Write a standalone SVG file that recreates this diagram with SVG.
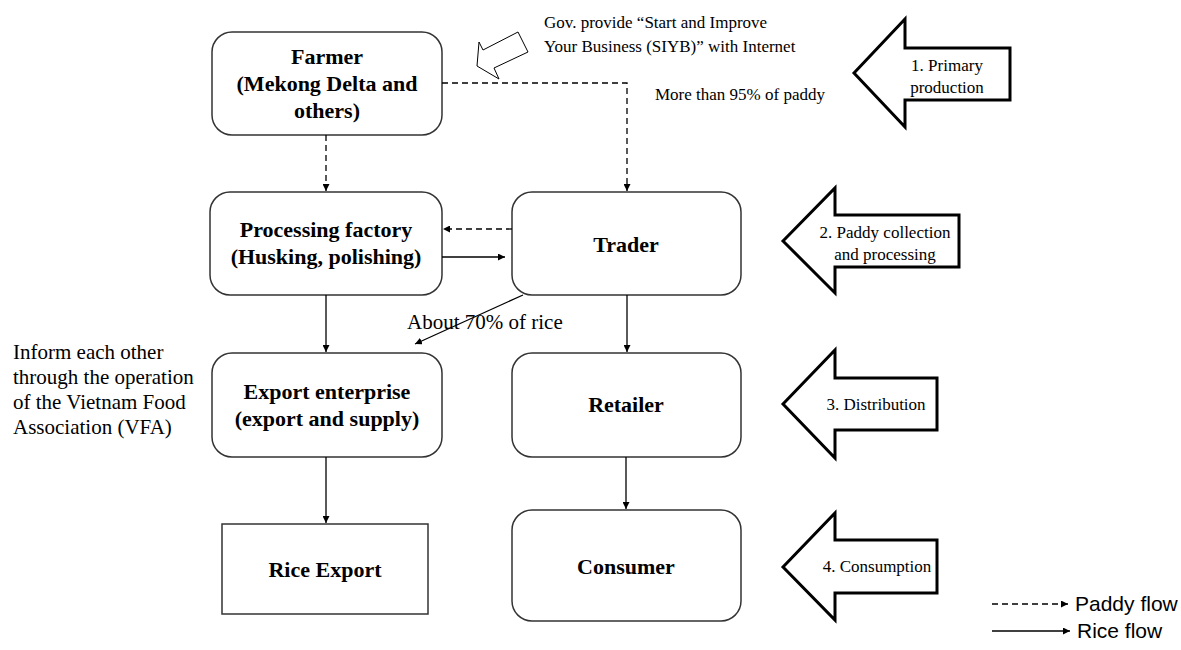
<svg xmlns="http://www.w3.org/2000/svg" width="1181" height="650" viewBox="0 0 1181 650">
  <style>
    .box { fill: #fff; stroke: #333; stroke-width: 1.5; }
    .node { font-family: "Liberation Serif", "Times New Roman", serif; font-weight: bold; font-size: 22px; fill: #000; text-anchor: middle; }
    .note { font-family: "Liberation Serif", "Times New Roman", serif; font-size: 17px; fill: #000; }
    .big { font-family: "Liberation Serif", "Times New Roman", serif; font-size: 21px; fill: #000; }
    .stage { font-family: "Liberation Serif", "Times New Roman", serif; font-size: 17px; fill: #000; text-anchor: middle; }
    .legend { font-family: "Liberation Sans", Arial, sans-serif; font-size: 21px; fill: #000; }
    .rice { fill: none; stroke: #000; stroke-width: 1.3; }
    .paddy { fill: none; stroke: #000; stroke-width: 1.3; stroke-dasharray: 6 4; }
    .block { fill: #fff; stroke: #000; stroke-width: 3; stroke-linejoin: miter; }
    .hollow { fill: #fff; stroke: #000; stroke-width: 1; }
  </style>
  <defs>
    <marker id="head" viewBox="0 0 10 10" refX="10" refY="5" markerWidth="7" markerHeight="7" markerUnits="userSpaceOnUse" orient="auto">
      <path d="M0,0 L10,5 L0,10 z" fill="#000"/>
    </marker>
  </defs>

  <!-- nodes -->
  <g id="farmer">
    <rect class="box" x="212" y="32" width="230" height="103" rx="20"/>
    <text class="node" x="327" y="64">Farmer</text>
    <text class="node" x="327" y="91">(Mekong Delta and</text>
    <text class="node" x="327" y="118">others)</text>
  </g>
  <g id="processing">
    <rect class="box" x="210" y="192" width="232" height="103" rx="20"/>
    <text class="node" x="326" y="237">Processing factory</text>
    <text class="node" x="326" y="264">(Husking, polishing)</text>
  </g>
  <g id="trader">
    <rect class="box" x="512" y="192" width="229" height="103" rx="20"/>
    <text class="node" x="626" y="252">Trader</text>
  </g>
  <g id="export">
    <rect class="box" x="212" y="353" width="230" height="104" rx="20"/>
    <text class="node" x="327" y="399">Export enterprise</text>
    <text class="node" x="327" y="426">(export and supply)</text>
  </g>
  <g id="retailer">
    <rect class="box" x="512" y="353" width="229" height="104" rx="20"/>
    <text class="node" x="626" y="412">Retailer</text>
  </g>
  <g id="rice-export">
    <rect class="box" x="222" y="524" width="206" height="90"/>
    <text class="node" x="325" y="577">Rice Export</text>
  </g>
  <g id="consumer">
    <rect class="box" x="512" y="510" width="229" height="111" rx="20"/>
    <text class="node" x="626" y="574">Consumer</text>
  </g>

  <!-- connectors -->
  <g id="connectors">
    <path class="paddy" d="M326,135 V191" marker-end="url(#head)"/>
    <path class="paddy" d="M442,83 H627 V191" marker-end="url(#head)"/>
    <path class="paddy" d="M512,229 H443" marker-end="url(#head)"/>
    <path class="rice" d="M442,257 H505" marker-end="url(#head)"/>
    <path class="rice" d="M326,295 V352" marker-end="url(#head)"/>
    <path class="rice" d="M627,295 V352" marker-end="url(#head)"/>
    <path class="rice" d="M523,295 L415,344" marker-end="url(#head)"/>
    <path class="rice" d="M326,457 V523" marker-end="url(#head)"/>
    <path class="rice" d="M626,457 V509" marker-end="url(#head)"/>
  </g>

  <!-- annotations -->
  <g id="annotations">
    <polygon class="hollow" points="477,66 479,42 483,50 518,32 528,52 494,68 499,79"/>
    <text class="note" x="544" y="28">Gov. provide “Start and Improve</text>
    <text class="note" x="544" y="52">Your Business (SIYB)” with Internet</text>
    <text class="note" x="655" y="100">More than 95% of paddy</text>
    <text class="big" x="407" y="329">About 70% of rice</text>
    <text class="big" x="13" y="359">Inform each other</text>
    <text class="big" x="13" y="384">through the operation</text>
    <text class="big" x="13" y="409">of the Vietnam Food</text>
    <text class="big" x="13" y="434">Association (VFA)</text>
  </g>

  <!-- stage arrows -->
  <g id="stage-1">
    <polygon class="block" points="854,73 905,19 905,48 1010,48 1010,100 905,100 905,127"/>
    <text class="stage" x="947" y="71">1. Primary</text>
    <text class="stage" x="947" y="93">production</text>
  </g>
  <g id="stage-2">
    <polygon class="block" points="783,241 835,188 835,215 959,215 959,267 835,267 835,293"/>
    <text class="stage" x="885" y="238">2. Paddy collection</text>
    <text class="stage" x="885" y="260">and processing</text>
  </g>
  <g id="stage-3">
    <polygon class="block" points="783,404 835,350 835,378 937,378 937,430 835,430 835,458"/>
    <text class="stage" x="876" y="410">3. Distribution</text>
  </g>
  <g id="stage-4">
    <polygon class="block" points="783,567 835,513 835,540 937,540 937,593 835,593 835,620"/>
    <text class="stage" x="877" y="572">4. Consumption</text>
  </g>

  <!-- legend -->
  <g id="legend">
    <path class="paddy" d="M992,604 H1068" marker-end="url(#head)"/>
    <text class="legend" x="1075" y="611">Paddy flow</text>
    <path class="rice" d="M992,631 H1070" marker-end="url(#head)"/>
    <text class="legend" x="1077" y="638">Rice flow</text>
  </g>
</svg>
